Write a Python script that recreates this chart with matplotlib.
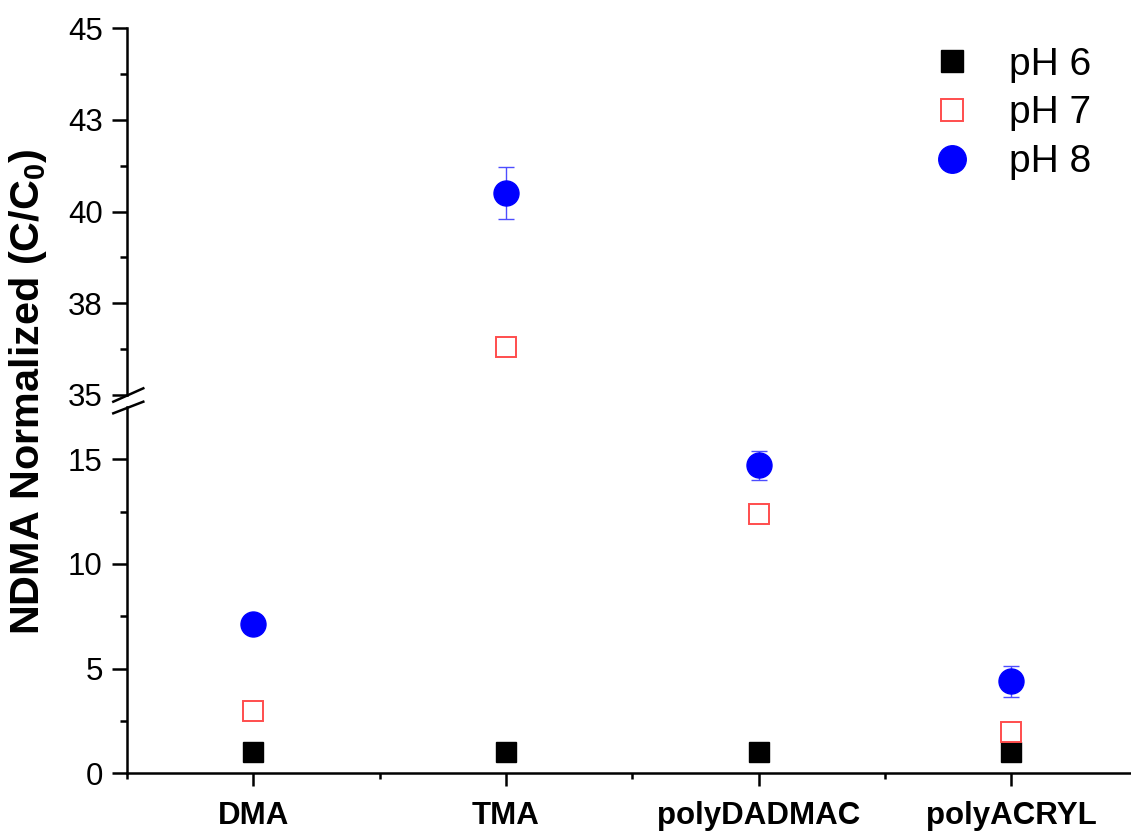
import matplotlib
matplotlib.use("Agg")
import matplotlib.pyplot as plt
from matplotlib.lines import Line2D
from matplotlib.ticker import FixedLocator, FixedFormatter

plt.rcParams['font.family'] = ['Liberation Sans', 'DejaVu Sans']
plt.rcParams['mathtext.fontset'] = 'custom'
plt.rcParams['mathtext.rm'] = 'Liberation Sans'
plt.rcParams['mathtext.bf'] = 'Liberation Sans:bold'

# ---- data ----
categories = ['DMA', 'TMA', 'polyDADMAC', 'polyACRYL']
ph6 = [1.0, 1.0, 1.0, 1.0]
ph7 = [3.0, 36.32, 12.4, 1.95]
ph8 = [7.14, 40.51, 14.72, 4.39]
ph8_err = [0.0, 0.72, 0.69, 0.76]

upper_ticks = [35, 37.5, 40, 42.5, 45]
upper_ticklabels = ['35', '38', '40', '43', '45']
lower_ticks = [0, 5, 10, 15]

xpos = list(range(1, len(categories) + 1))

fig = plt.figure(figsize=(11.31, 8.31), dpi=100)
W, H = 1131.0, 831.0
left = 127 / W
ax_up = fig.add_axes([left, 1 - 395 / H, 1 - left, (395 - 28.3) / H])
ax_lo = fig.add_axes([left, 1 - 773.3 / H, 1 - left, (773.3 - 407) / H])

red = '#ff4d4d'
blue = '#0000ff'
for ax in (ax_up, ax_lo):
    ax.errorbar(xpos, ph8, yerr=ph8_err, fmt='none', ecolor='#4d4dff',
                elinewidth=1.0, capsize=5.5, capthick=1.0, zorder=2)
    ax.plot(xpos, ph6, 's', color='black', markersize=15, linestyle='none',
            label='pH 6', zorder=3)
    ax.plot(xpos, ph7, 's', markerfacecolor='white', markeredgecolor=red,
            markeredgewidth=1.4, markersize=14, linestyle='none',
            label='pH 7', zorder=4)
    ax.plot(xpos, ph8, 'o', color=blue, markersize=18, linestyle='none',
            label='pH 8', zorder=5)
    ax.set_xlim(0.5, 4.473)
    for s in ('top', 'right'):
        ax.spines[s].set_visible(False)
    ax.spines['left'].set_linewidth(1.8)
    ax.spines['bottom'].set_linewidth(1.8)
    ax.tick_params(axis='y', which='major', direction='out', length=10.5,
                   width=1.8, labelsize=22.5, pad=7)
    ax.tick_params(axis='y', which='minor', direction='out', length=5,
                   width=1.8)

# upper part: 35-45
ax_up.set_ylim(35, 45)
ax_up.spines['bottom'].set_visible(False)
ax_up.yaxis.set_major_locator(FixedLocator(upper_ticks))
ax_up.yaxis.set_major_formatter(FixedFormatter(upper_ticklabels))
ax_up.yaxis.set_minor_locator(FixedLocator([36.25, 38.75, 41.25, 43.75]))
ax_up.set_xticks([])
ax_up.tick_params(axis='x', which='both', bottom=False, labelbottom=False)

# lower part: 0-17.5
ax_lo.set_ylim(0, 17.5)
ax_lo.yaxis.set_major_locator(FixedLocator(lower_ticks))
ax_lo.yaxis.set_minor_locator(FixedLocator([2.5, 7.5, 12.5]))
ax_lo.set_xticks(xpos)
ax_lo.set_xticklabels(categories, fontsize=22.5, fontweight='bold')
ax_lo.xaxis.set_minor_locator(FixedLocator([0.5, 1.5, 2.5, 3.5, 4.5]))
ax_lo.tick_params(axis='x', which='major', direction='out', length=9,
                  width=1.8, pad=11)
ax_lo.tick_params(axis='x', which='minor', direction='out', length=4,
                  width=1.8)

# axis break marks
for y0, y1 in [(401.7, 388.3), (413.3, 401.7)]:
    fig.add_artist(Line2D([113.3 / W, 143.3 / W], [1 - y0 / H, 1 - y1 / H],
                          color='black', linewidth=1.8))

fig.text(28 / W, 1 - 392 / H, r'NDMA Normalized (C/C$_\mathbf{0}$)',
         rotation=90, ha='center', va='center', fontsize=29.8,
         fontweight='bold')

ax_up.legend(loc='upper left', bbox_to_anchor=(898 / W, 1 - 31 / H),
             bbox_transform=fig.transFigure, frameon=False, fontsize=28,
             handletextpad=0.45, labelspacing=0.33, borderaxespad=0,
             numpoints=1, markerscale=1.1)

fig.savefig('out.png', dpi=100)
